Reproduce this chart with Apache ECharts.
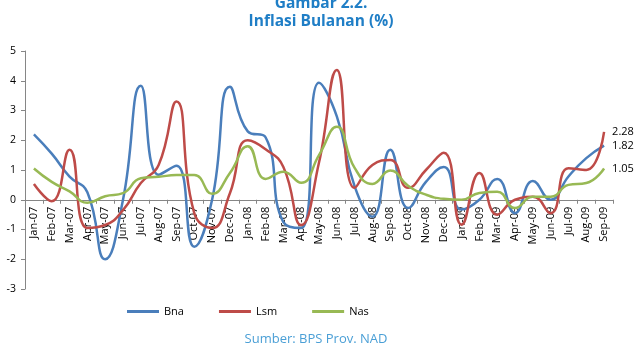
<!DOCTYPE html>
<html>
<head>
<meta charset="utf-8">
<script src="https://cdn.jsdelivr.net/npm/echarts@6/dist/echarts.min.js"></script>
<style>
  html, body { margin: 0; padding: 0; background: #fff; }
  #chart { width: 643px; height: 354px; }
</style>
</head>
<body>
<div id="chart"></div>
<script>
// bulan Jan-07 .. Sep-09
var months = ["Jan-07", "Feb-07", "Mar-07", "Apr-07", "May-07", "Jun-07", "Jul-07", "Aug-07", "Sep-07", "Oct-07", "Nov-07", "Dec-07",
  "Jan-08", "Feb-08", "Mar-08", "Apr-08", "May-08", "Jun-08", "Jul-08", "Aug-08", "Sep-08", "Oct-08", "Nov-08", "Dec-08",
  "Jan-09", "Feb-09", "Mar-09", "Apr-09", "May-09", "Jun-09", "Jul-09", "Aug-09", "Sep-09"];

var bna = [2.2, 1.55, 0.78, 0.25, -2.0, 0.0, 3.83, 0.84, 1.14, -1.58, 0.0, 3.8,
  2.3, 2.1, -0.75, -0.95, 3.93, 2.8, 0.45, -0.57, 1.68, -0.28, 0.6, 1.1,
  -0.33, 0.0, 0.7, -0.45, 0.63, 0.0, 0.78, 1.4, 1.82];

var lsm = [0.53, -0.05, 1.68, -0.95, -0.85, -0.35, 0.56, 1.17, 3.3, -0.45, -0.95, 0.22,
  2.0, 1.7, 1.1, -0.85, 1.25, 4.36, 0.4, 1.17, 1.34, 0.4, 1.0, 1.58,
  -0.84, 0.9, -0.5, 0.0, 0.1, -0.45, 1.06, 1.0, 2.28];

var nas = [1.05, 0.6, 0.28, -0.1, 0.12, 0.22, 0.72, 0.77, 0.83, 0.83, 0.2, 0.9,
  1.8, 0.7, 0.94, 0.57, 1.5, 2.45, 1.07, 0.53, 0.98, 0.47, 0.17, 0.03,
  0.0, 0.23, 0.27, -0.28, 0.1, 0.1, 0.5, 0.56, 1.05];

var yTicks = [-3, 5, 1]; // min, max, interval

var gridTop = 51, gridBottom = 65;
// jarak garis nol dari bawah grid (sumbu x diletakkan di nilai 0)
var plotH = 354 - gridTop - gridBottom;
var zeroOffset = plotH * (0 - yTicks[0]) / (yTicks[1] - yTicks[0]);

var myChart = echarts.init(document.getElementById("chart"));

var fontFam = "'Open Sans', 'Liberation Sans', sans-serif";

function makeSeries(name, data, color) {
  return {
    name: name,
    type: "line",
    data: data,
    smooth: 0.5,
    symbol: "none",
    lineStyle: { color: color, width: 2.5 },
    itemStyle: { color: color },
    endLabel: {
      show: true,
      formatter: function (p) { return p.value.toFixed(2); },
      color: "#000",
      fontSize: 11,
      fontFamily: fontFam,
      distance: 8
    }
  };
}

var option = {
  animation: false,
  backgroundColor: "#fff",
  title: {
    text: "Gambar 2.2.\nInflasi Bulanan (%)",
    left: 316,
    top: -10,
    textAlign: "center",
    textStyle: {
      color: "#1f7ec6",
      fontSize: 15.5,
      fontWeight: "bold",
      fontFamily: fontFam,
      lineHeight: 18
    }
  },
  legend: {
    data: ["Bna", "Lsm", "Nas"],
    top: 301,
    left: 122,
    itemWidth: 32,
    itemHeight: 3,
    itemGap: 35,
    icon: "rect",
    textStyle: { color: "#000", fontSize: 11, fontFamily: fontFam }
  },
  graphic: [{
    type: "text",
    x: 316,
    y: 333,
    style: {
      text: "Sumber: BPS Prov. NAD",
      fill: "#4a9fd6",
      fontSize: 13,
      textAlign: "center",
      fontFamily: fontFam
    }
  }],
  grid: { left: 25, right: 30, top: gridTop, bottom: gridBottom, containLabel: false },
  xAxis: {
    type: "category",
    data: months,
    boundaryGap: true,
    offset: -zeroOffset,
    axisLine: { onZero: false, lineStyle: { color: "#868686", width: 1 } },
    axisTick: { show: true, alignWithLabel: false, length: 4, lineStyle: { color: "#868686" } },
    axisLabel: {
      rotate: 90,
      interval: 0,
      color: "#000",
      fontSize: 11,
      fontFamily: fontFam,
      margin: 7
    },
    splitLine: { show: false }
  },
  yAxis: {
    type: "value",
    min: yTicks[0],
    max: yTicks[1],
    interval: yTicks[2],
    axisLine: { show: true, lineStyle: { color: "#868686" } },
    axisTick: { show: true, length: 4, lineStyle: { color: "#868686" } },
    axisLabel: { color: "#000", fontSize: 10.5, fontFamily: fontFam, margin: 9 },
    splitLine: { show: false }
  },
  series: [
    makeSeries("Bna", bna, "#4a7ebb"),
    makeSeries("Lsm", lsm, "#be4b48"),
    makeSeries("Nas", nas, "#98b954")
  ]
};

myChart.setOption(option);
</script>
</body>
</html>
